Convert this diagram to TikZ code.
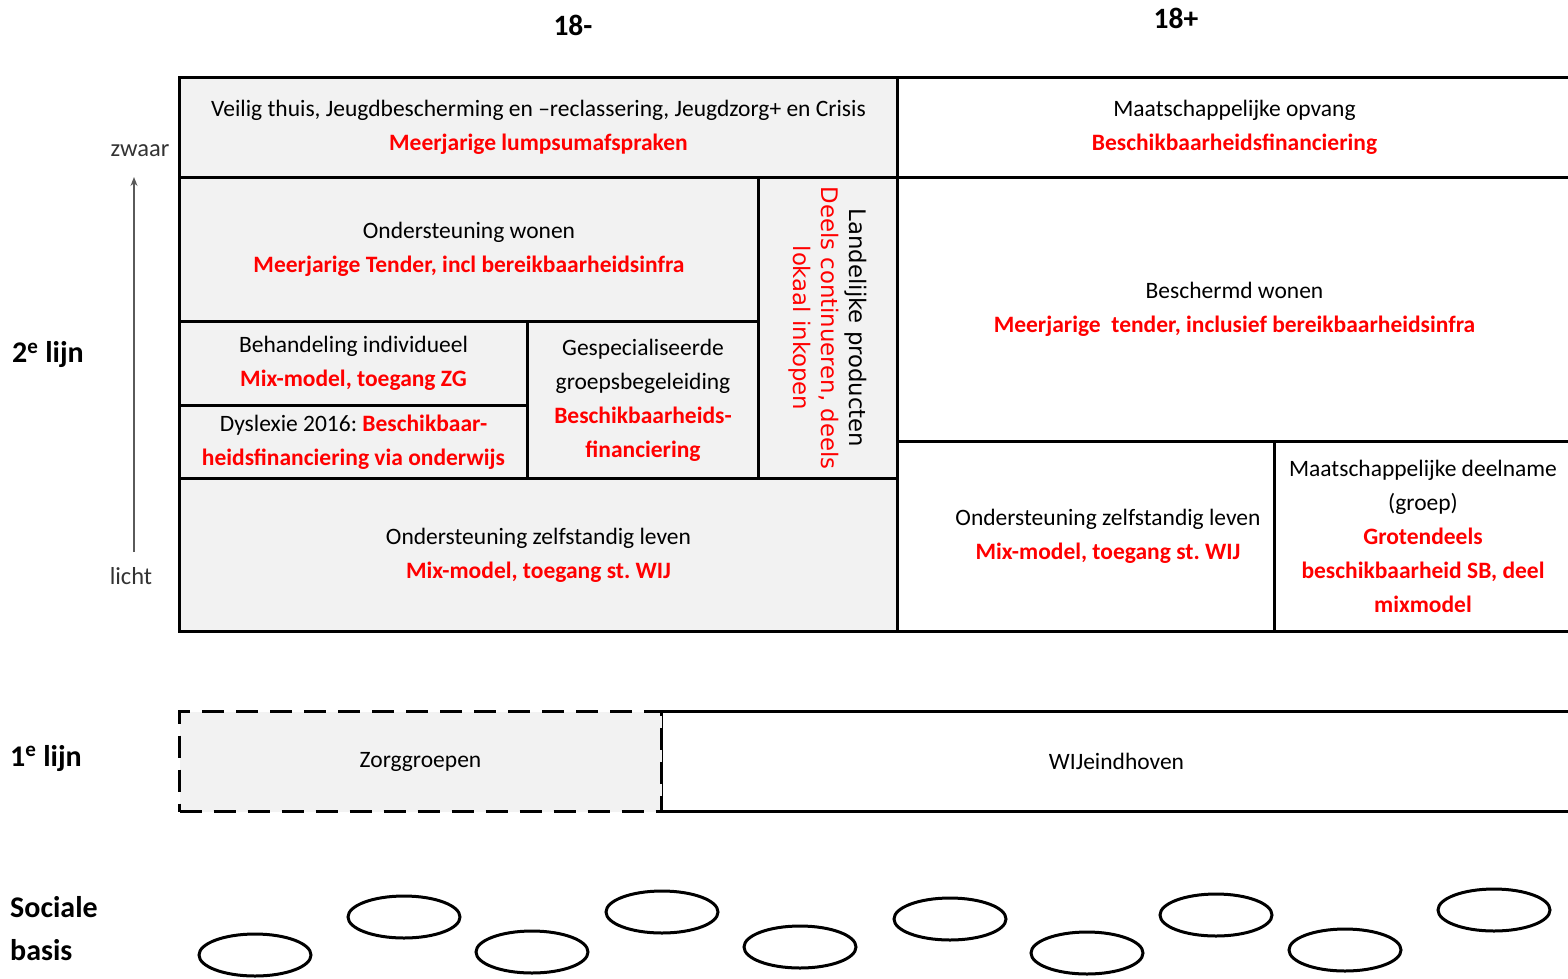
\documentclass[tikz,border=0pt]{standalone}
\usepackage{fontspec}
\setmainfont{Carlito}
\newfontfamily\rotfont{DejaVu Sans}
\usetikzlibrary{shapes.geometric,arrows.meta}
\frenchspacing
\definecolor{boxgray}{RGB}{242,242,242}
\definecolor{redtxt}{RGB}{255,0,0}
\definecolor{arrgray}{RGB}{90,90,90}
\newcommand\rb[1]{\textcolor{redtxt}{\bfseries #1}}
\tikzset{
  every node/.style={font=\fontsize{23.5}{34}\selectfont},
  gbox/.style={draw, line width=3pt, fill=boxgray, anchor=north west, inner sep=0pt, align=center},
  wbox/.style={draw, line width=3pt, fill=white, anchor=north west, inner sep=0pt, align=center},
  oval/.style={draw, line width=3pt, ellipse, minimum width=112pt, minimum height=42pt, inner sep=0pt},
  biglab/.style={font=\fontsize{30}{36}\selectfont\bfseries, align=left, inner sep=0pt},
  smalllab/.style={font=\fontsize{24.5}{28}\selectfont, text=black!80, inner sep=0pt}
}
\begin{document}
\begin{tikzpicture}[x=1pt,y=-1pt]
\useasboundingbox (0,0) rectangle (1568,978);
% header labels
\node[font=\fontsize{29.5}{34}\selectfont\bfseries] (h1) at (573,25) {18-};
\node[font=\fontsize{29.5}{34}\selectfont\bfseries] (h2) at (1176,18) {18+};
% 2e lijn
\node[gbox, minimum width=718pt, minimum height=100pt] (vt) at (178,76)
  {Veilig thuis, Jeugdbescherming en –reclassering, Jeugdzorg+ en Crisis\\ \rb{Meerjarige lumpsumafspraken}};
\node[wbox, minimum width=674pt, minimum height=100pt] (mo) at (896,76)
  {Maatschappelijke opvang\\ \rb{Beschikbaarheidsfinanciering}};
\node[gbox, minimum width=579pt, minimum height=144pt] (ow) at (178,176)
  {Ondersteuning wonen\\ \rb{Meerjarige Tender, incl bereikbaarheidsinfra}};
\node[gbox, minimum width=139pt, minimum height=301pt] (lp) at (757,176) {};
\node[rotate=-90, align=center, font=\rotfont\fontsize{22.8}{28}\selectfont] (lpt) at (lp.center)
  {Landelijke producten\\ \textcolor{redtxt}{Deels continueren, deels}\\ \textcolor{redtxt}{lokaal inkopen}};
\node[gbox, minimum width=348pt, minimum height=84pt] (bi) at (178,320)
  {Behandeling individueel\\ \rb{Mix-model, toegang ZG}};
\node[gbox, minimum width=348pt, minimum height=73pt] (dy) at (178,404)
  {Dyslexie 2016: \rb{Beschikbaar-}\\ \rb{heidsfinanciering via onderwijs}};
\node[gbox, minimum width=231pt, minimum height=157pt] (gg) at (526,320)
  {Gespecialiseerde\\ groepsbegeleiding\\ \rb{Beschikbaarheids-}\\ \rb{financiering}};
\node[gbox, minimum width=718pt, minimum height=153pt] (ozl) at (178,477)
  {Ondersteuning zelfstandig leven\\ \rb{Mix-model, toegang st. WIJ}};
\node[wbox, minimum width=674pt, minimum height=264pt] (bw) at (896,176)
  {Beschermd wonen\\ \rb{Meerjarige\ \ tender, inclusief bereikbaarheidsinfra}};
\node[wbox, minimum width=377pt, minimum height=190pt] (ozr) at (896,440) {};
\node[align=center, inner sep=0pt] (ozrt) at ([xshift=22pt]ozr.center)
  {Ondersteuning zelfstandig leven\\ \rb{Mix-model, toegang st. WIJ}};
\node[wbox, minimum width=297pt, minimum height=190pt] (md) at (1273,440)
  {Maatschappelijke deelname\\ (groep)\\ \rb{Grotendeels}\\ \rb{beschikbaarheid SB, deel}\\ \rb{mixmodel}};
% arrow
\node[smalllab] (zw) at (140,151) {zwaar};
\node[smalllab] (li) at (131,576) {licht};
\coordinate (arB) at (134,552);
\coordinate (arT) at (134,177);
\draw[arrgray, line width=1.3pt, -{Stealth[length=9pt,width=7pt]}] (arB) -- (arT);
\node[biglab] (l2) at (48,355) {2\textsuperscript{e} lijn};
% 1e lijn
\node[wbox, minimum width=910pt, minimum height=100pt] (wij) at (660,710) {WIJeindhoven};
\node[gbox, dash pattern=on 22pt off 12pt, minimum width=482pt, minimum height=100pt] (zg) at (178,710) {Zorggroepen};
\node[biglab] (l1) at (46,758) {1\textsuperscript{e} lijn};
% sociale basis
\node[biglab, anchor=west, font=\fontsize{30}{43}\selectfont\bfseries] (sb) at (10,929) {Sociale\\ basis};
\node[oval] (o1) at (255,955) {};
\node[oval] (o2) at (404,917) {};
\node[oval] (o3) at (532,952) {};
\node[oval] (o4) at (662,912) {};
\node[oval] (o5) at (800,947) {};
\node[oval] (o6) at (950,919) {};
\node[oval] (o7) at (1087,953) {};
\node[oval] (o8) at (1216,915) {};
\node[oval] (o9) at (1345,950) {};
\node[oval] (o10) at (1494,910) {};
\end{tikzpicture}
\end{document}
